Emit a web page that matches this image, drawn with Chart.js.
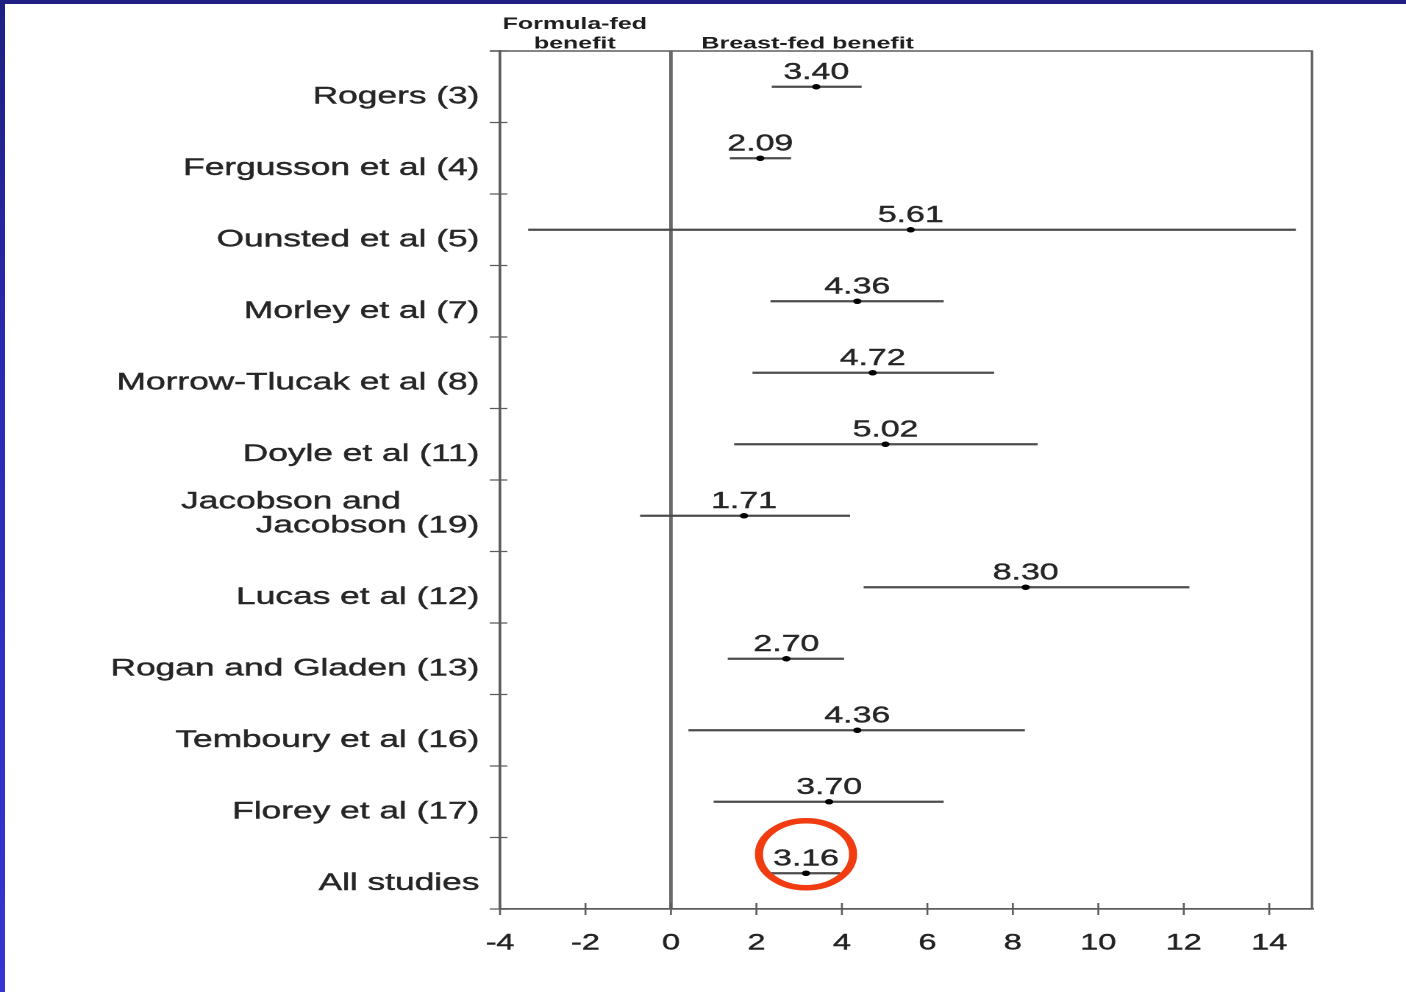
<!DOCTYPE html>
<html>
<head>
<meta charset="utf-8">
<script src="https://cdn.jsdelivr.net/npm/chart.js@4.4.1/dist/chart.umd.min.js"></script>
<style>
  html, body { margin: 0; padding: 0; background: #ffffff; overflow: hidden; }
  #stage { position: absolute; left: 0; top: 0; height: 992px; transform-origin: 0 0; }
  .edge-top { position: absolute; left: 0; top: 0; width: 1406px; height: 4px; background: #1f1f82; }
  .edge-left { position: absolute; left: 0; top: 0; width: 5px; height: 992px;
               background: linear-gradient(to bottom, #1f1f82 0%, #2b2bb4 40%, #3535d2 100%); }
</style>
</head>
<body>
<div id="stage"><canvas id="forest"></canvas></div>
<div class="edge-top"></div>
<div class="edge-left"></div>
<script>
// Studies, top to bottom
const studies = [
  'Rogers (3)',
  'Fergusson et al (4)',
  'Ounsted et al (5)',
  'Morley et al (7)',
  'Morrow-Tlucak et al (8)',
  'Doyle et al (11)',
  ['Jacobson and        ', 'Jacobson (19)', ''],
  'Lucas et al (12)',
  'Rogan and Gladen (13)',
  'Temboury et al (16)',
  'Florey et al (17)',
  'All studies'
];
// Mean IQ difference (breast-fed minus formula-fed) and 95% CI bounds
const estimates = [3.40, 2.09, 5.61, 4.36, 4.72, 5.02, 1.71, 8.30, 2.70, 4.36, 3.70, 3.16];
const ciLower   = [2.37, 1.39, -3.33, 2.34, 1.92, 1.49, -0.71, 4.52, 1.34, 0.42, 1.01, 2.33];
const ciUpper   = [4.45, 2.80, 14.61, 6.37, 7.55, 8.57, 4.18, 12.12, 4.04, 8.27, 6.37, 3.95];
// Axis ticks
const xTicks = [-4, -2, 0, 2, 4, 6, 8, 10, 12, 14];
const xRange = [-4, 15];
// Column headings and the x value each is centred on
const headings = [
  { lines: ['Formula-fed', 'benefit'], at: -2.25 },
  { lines: ['', 'Breast-fed benefit'], at: 3.2 }
];
const highlighted = 'All studies';

// The figure is laid out narrow and widened horizontally
const PAGE_W = 1406, PAGE_H = 992, CANVAS_W = 956;
const STRETCH = PAGE_W / CANVAS_W;
const stage = document.getElementById('stage');
stage.style.width = CANVAS_W + 'px';
stage.style.transform = 'scaleX(' + STRETCH + ')';

const PLOT_LEFT = 500 / STRETCH, PLOT_RIGHT = 1312 / STRETCH;
const PLOT_TOP = 51, PLOT_BOTTOM = 909;

const FONT = '"Liberation Sans", Arial, Helvetica, sans-serif';
const AXIS_GREY = '#5c5c5c';
const TEXT = '#262626';

const ciBars = ciLower.map((lo, i) => [lo, ciUpper[i]]);

// Small crossing tick marks, plus the top and right edges of the frame
const framePlugin = {
  id: 'frame',
  afterDraw(chart) {
    const { ctx, chartArea: a, scales: { x, y } } = chart;
    ctx.save();
    ctx.strokeStyle = AXIS_GREY;
    ctx.lineWidth = 1.6;
    ctx.beginPath();
    ctx.moveTo(a.left - 7, a.top);
    ctx.lineTo(a.right, a.top);
    ctx.lineTo(a.right, a.bottom);
    ctx.stroke();
    ctx.lineWidth = 1.3;
    ctx.beginPath();
    x.ticks.forEach(t => {
      const px = x.getPixelForValue(t.value);
      ctx.moveTo(px, a.bottom - 6);
      ctx.lineTo(px, a.bottom + 6);
    });
    const p0 = y.getPixelForValue(0), p1 = y.getPixelForValue(1);
    const band = p1 - p0;
    for (let k = 0; k <= studies.length; k++) {
      const py = p0 - band / 2 + k * band;
      ctx.moveTo(a.left - 7, py);
      ctx.lineTo(a.left + 5, py);
    }
    ctx.stroke();
    ctx.restore();
  }
};

// Value labels above each point, column headings, and the ring round the pooled estimate
const annotatePlugin = {
  id: 'annotate',
  afterDraw(chart) {
    const { ctx, scales: { x } } = chart;
    const meta = chart.getDatasetMeta(0);
    ctx.save();
    ctx.fillStyle = TEXT;
    ctx.strokeStyle = TEXT;
    ctx.lineWidth = 0.4;
    ctx.font = '23px ' + FONT;
    ctx.textAlign = 'center';
    ctx.textBaseline = 'alphabetic';
    meta.data.forEach((pt, i) => {
      const s = estimates[i].toFixed(2);
      ctx.fillText(s, pt.x, pt.y - 8);
      ctx.strokeText(s, pt.x, pt.y - 8);
    });

    ctx.font = 'bold 17px ' + FONT;
    ctx.fillStyle = '#1e1e1e';
    headings.forEach(h => {
      const cx = x.getPixelForValue(h.at);
      h.lines.forEach((line, j) => ctx.fillText(line, cx, 29 + j * 19.5));
    });

    const hi = studies.indexOf(highlighted);
    const pt = meta.data[hi];
    ctx.strokeStyle = '#f03c10';
    ctx.lineWidth = 5.5;
    ctx.beginPath();
    ctx.ellipse(pt.x, pt.y - 19, 32, 33.5, 0, 0, Math.PI * 2);
    ctx.stroke();
    ctx.restore();
  }
};

new Chart(document.getElementById('forest'), {
  type: 'bar',
  data: {
    labels: studies,
    datasets: [
      {
        type: 'line',
        indexAxis: 'y',
        data: estimates,
        showLine: false,
        pointRadius: 2.8,
        pointBackgroundColor: '#000000',
        pointBorderWidth: 0,
        order: 0
      },
      {
        type: 'bar',
        data: ciBars,
        backgroundColor: '#4d4d4d',
        borderWidth: 0,
        barThickness: 1.6,
        order: 1
      }
    ]
  },
  options: {
    indexAxis: 'y',
    responsive: true,
    maintainAspectRatio: false,
    animation: false,
    devicePixelRatio: 2,
    layout: { padding: { left: 0, top: PLOT_TOP, right: CANVAS_W - PLOT_RIGHT, bottom: 0 } },
    plugins: { legend: { display: false }, tooltip: { enabled: false } },
    scales: {
      x: {
        type: 'linear',
        min: xRange[0],
        max: xRange[1],
        afterBuildTicks: scale => { scale.ticks = xTicks.map(v => ({ value: v })); },
        afterFit: scale => { scale.height = PAGE_H - PLOT_BOTTOM; },
        grid: {
          drawTicks: false,
          color: c => (c.tick && c.tick.value === 0 ? '#6a6a6a' : 'rgba(0,0,0,0)'),
          lineWidth: 2.4
        },
        border: { display: true, color: AXIS_GREY, width: 1.8 },
        ticks: {
          padding: 21,
          color: '#222222',
          textStrokeColor: '#222222',
          textStrokeWidth: 0.4,
          font: { family: FONT, size: 22 },
          maxRotation: 0,
          autoSkip: false
        }
      },
      y: {
        type: 'category',
        offset: true,
        afterFit: scale => { scale.width = PLOT_LEFT; },
        grid: { display: false, drawTicks: false },
        border: { display: true, color: AXIS_GREY, width: 1.8 },
        ticks: {
          padding: 14,
          labelOffset: 10,
          color: TEXT,
          textStrokeColor: TEXT,
          textStrokeWidth: 0.4,
          font: { family: FONT, size: 24, lineHeight: 1.0 },
          autoSkip: false
        }
      }
    }
  },
  plugins: [framePlugin, annotatePlugin]
});
</script>
</body>
</html>
